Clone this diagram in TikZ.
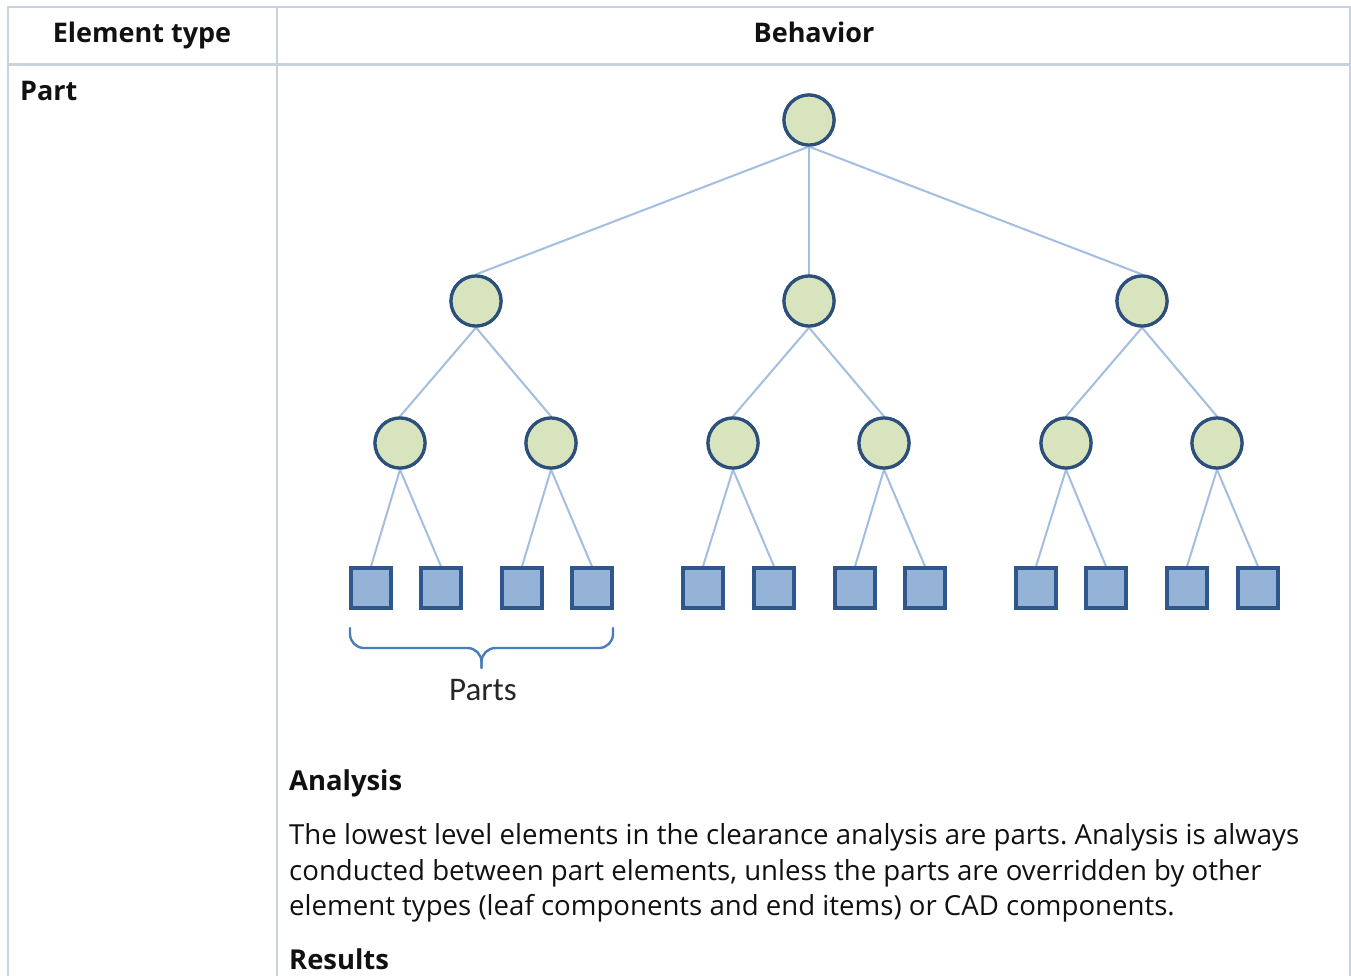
\documentclass[tikz,border=0pt]{standalone}
\usepackage{fontspec}
\setmainfont{Open Sans}
\newfontfamily\partsfont{Carlito}
\frenchspacing
\definecolor{gridline}{HTML}{C8D3DE}
\definecolor{edgeblue}{HTML}{A3BEE0}
\definecolor{nodefill}{HTML}{D7E4BD}
\definecolor{nodeline}{HTML}{2C4F7C}
\definecolor{leaffill}{HTML}{95B3D7}
\definecolor{leafline}{HTML}{30578B}
\definecolor{bracecol}{HTML}{4A7EBB}
\definecolor{bodytext}{HTML}{111111}
\begin{document}
\begin{tikzpicture}[x=1pt,y=-1pt,
  tablerule/.style={draw=gridline,line width=2.6pt},
  branch/.style={circle,draw=nodeline,line width=3.2pt,fill=nodefill,minimum size=50pt,inner sep=0pt},
  leaf/.style={rectangle,draw=leafline,line width=3.2pt,fill=leaffill,minimum size=40pt,inner sep=0pt},
  link/.style={draw=edgeblue,line width=2pt},
  headtxt/.style={font=\fontsize{27}{30}\selectfont\bfseries,text=bodytext,inner sep=0pt,anchor=base},
  bodytxt/.style={font=\fontsize{27.6}{31}\selectfont,text=bodytext,inner sep=0pt,anchor=base west},
  subhead/.style={font=\fontsize{27.4}{31}\selectfont\bfseries,text=bodytext,inner sep=0pt,anchor=base west}]
\useasboundingbox (0,0) rectangle (1351,975);
\fill[white] (0,0) rectangle (1351,975);

% table grid
\draw[tablerule] (8,980) -- (8,7) -- (1350,7) -- (1350,980);
\draw[tablerule] (8,64.5) -- (1350,64.5);
\draw[tablerule] (277,7) -- (277,980);

% table texts
\node[headtxt] (h1) at (142,42) {Element type};
\node[headtxt] (h2) at (814,42) {Behavior};
\node[headtxt,anchor=base west] (p) at (20,100) {Part};

% hierarchy
\node[branch] (r) at (809,120) {};
\node[branch] (a) at (476,301) {};
\node[branch] (b) at (809,301) {};
\node[branch] (c) at (1142,301) {};
\node[branch] (a1) at (400,443) {};
\node[branch] (a2) at (551,443) {};
\node[branch] (b1) at (733,443) {};
\node[branch] (b2) at (884,443) {};
\node[branch] (c1) at (1066,443) {};
\node[branch] (c2) at (1217,443) {};
\foreach \n/\x in {a1l/371,a1r/441,a2l/522,a2r/592,b1l/703,b1r/774,b2l/855,b2r/925,c1l/1036,c1r/1106,c2l/1187,c2r/1258}
  \node[leaf] (\n) at (\x,588) {};

% connectors
\foreach \p/\q in {r/a,r/b,r/c,a/a1,a/a2,b/b1,b/b2,c/c1,c/c2}
  \draw[link] (\p.south) -- (\q.north);
\foreach \p in {a1,a2,b1,b2,c1,c2}{
  \draw[link] (\p.south) -- (\p l.north);
  \draw[link] (\p.south) -- (\p r.north);
}
% redraw nodes over the connector ends
\foreach \n/\x/\y in {r/809/120,a/476/301,b/809/301,c/1142/301,a1/400/443,a2/551/443,b1/733/443,b2/884/443,c1/1066/443,c2/1217/443}
  \node[branch] at (\x,\y) {};
\foreach \x in {371,441,522,592,703,774,855,925,1036,1106,1187,1258}
  \node[leaf] at (\x,588) {};

% brace under the first group of leaves
\coordinate (bl) at (350,628);
\coordinate (br) at (613,628);
\coordinate (bt) at (481.5,668);
\draw[bracecol,line width=2.4pt,line cap=round,rounded corners=14pt]
  (bl) -- (350,648) -- (481.5,648) -- (bt);
\draw[bracecol,line width=2.4pt,line cap=round,rounded corners=14pt]
  (br) -- (613,648) -- (481.5,648) -- (bt);
\node[font=\partsfont\fontsize{33}{36}\selectfont,text=black!85,inner sep=0pt,anchor=base] (pl) at (483,700) {Parts};

% description
\node[subhead] (an) at (289,790) {Analysis};
\node[bodytxt] (l1) at (289,844) {The lowest level elements in the clearance analysis are parts. Analysis is always};
\node[bodytxt] (l2) at (289,880) {conducted between part elements, unless the parts are overridden by other};
\node[bodytxt] (l3) at (289,915) {element types (leaf components and end items) or CAD components.};
\node[subhead] (rs) at (289,969) {Results};
\end{tikzpicture}
\end{document}
